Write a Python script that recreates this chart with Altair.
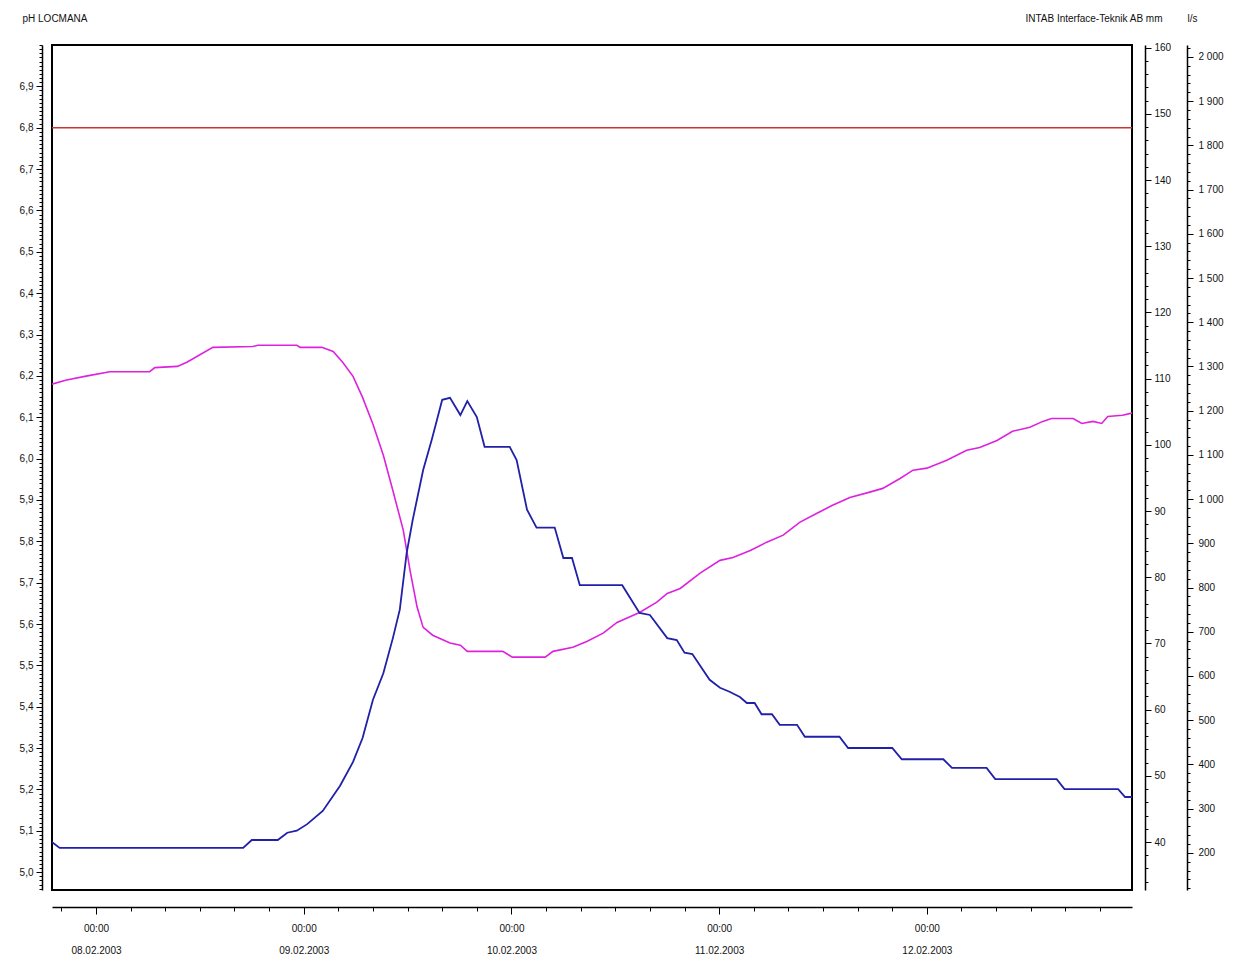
import altair as alt
import pandas as pd
from datetime import datetime, timedelta

# ---------------- data ----------------
BASE = datetime(2003, 2, 8, 0, 0)   # 08.02.2003 00:00

ph_hours = [-5.1, -3.4, -1.0, 1.6, 6.2, 6.8, 9.4, 10.5, 13.5, 18.1, 18.7, 23.2, 23.6, 26.1,
            27.4, 28.5, 29.7, 30.8, 32.0, 33.2, 34.3, 35.5, 36.3, 37.1, 37.8, 38.9, 40.9,
            42.1, 42.9, 47.0, 48.1, 51.9, 52.8, 55.1, 56.7, 58.6, 60.2, 62.8, 64.8, 66.0,
            67.5, 69.8, 72.1, 73.6, 75.6, 77.5, 79.4, 81.3, 83.3, 85.1, 87.1, 89.4, 90.9,
            92.9, 94.4, 96.0, 98.3, 100.6, 102.1, 104.1, 105.9, 107.9, 109.4, 110.4, 112.9,
            113.9, 115.2, 116.2, 116.9, 118.6, 119.7]
ph_values = [6.18, 6.19, 6.20, 6.21, 6.21, 6.22, 6.223, 6.233, 6.269, 6.271, 6.274, 6.274,
             6.269, 6.269, 6.259, 6.233, 6.199, 6.148, 6.083, 6.008, 5.923, 5.827, 5.728,
             5.641, 5.592, 5.573, 5.554, 5.549, 5.534, 5.534, 5.520, 5.520, 5.534, 5.544,
             5.558, 5.578, 5.604, 5.628, 5.653, 5.674, 5.686, 5.723, 5.754, 5.761, 5.778,
             5.798, 5.815, 5.846, 5.868, 5.887, 5.906, 5.919, 5.928, 5.952, 5.972, 5.977,
             5.996, 6.020, 6.027, 6.044, 6.066, 6.076, 6.090, 6.097, 6.097, 6.085, 6.090,
             6.085, 6.102, 6.105, 6.110]

blue_hours = [-5.1, -4.2, 17.0, 18.0, 21.0, 22.1, 23.2, 24.4, 26.2, 28.2, 29.7, 30.8, 32.0,
              33.2, 34.3, 35.1, 35.9, 36.6, 37.8, 38.8, 39.4, 40.0, 40.9, 42.1, 42.9, 44.0,
              44.9, 47.8, 48.6, 49.8, 50.9, 53.0, 54.0, 55.0, 55.9, 60.8, 62.8, 64.0, 66.0,
              67.1, 68.0, 68.9, 70.9, 72.1, 73.2, 74.4, 75.2, 76.1, 76.9, 78.1, 79.0, 81.0,
              81.9, 85.9, 86.9, 92.0, 93.1, 97.9, 98.9, 102.9, 103.9, 111.0, 111.9, 118.1,
              118.9, 119.7]
blue_values = [40.0, 39.1, 39.1, 40.3, 40.3, 41.4, 41.7, 42.7, 44.7, 48.5, 52.1, 55.7, 61.5,
               65.5, 70.8, 75.1, 83.7, 88.7, 96.2, 100.8, 103.8, 106.8, 107.1, 104.5, 106.6,
               104.2, 99.7, 99.7, 97.7, 90.2, 87.5, 87.5, 82.9, 82.9, 78.8, 78.8, 74.6, 74.3,
               70.8, 70.5, 68.6, 68.4, 64.5, 63.3, 62.7, 61.9, 61.0, 61.0, 59.3, 59.3, 57.7,
               57.7, 55.9, 55.9, 54.2, 54.2, 52.5, 52.5, 51.2, 51.2, 49.5, 49.5, 48.0, 48.0,
               46.8, 46.8]

limit_hours = [-5.2, 120.0]
limit_ph = [6.8, 6.8]

ph_domain = [4.957, 7.0]
mm_domain = [32.75, 160.4]
ls_domain = [116, 2027]

ph_ticks = [round(5.0 + 0.1 * i, 1) for i in range(20)]
ph_minor = [round(4.96 + 0.01 * i, 2) for i in range(205)]
mm_ticks = list(range(40, 161, 10))
mm_minor = list(range(34, 161, 2))
ls_ticks = list(range(200, 2001, 100))
ls_minor = list(range(120, 2021, 20))

LEFT_TITLE = "pH   LOCMANA"
RIGHT1_TITLE = "INTAB Interface-Teknik AB   mm"
RIGHT2_TITLE = "l/s"

# ---------------- tables ----------------
def t(h):
    return BASE + timedelta(hours=h)

df_ph = pd.DataFrame({
    "time": [t(h) for h in ph_hours] + [t(h) for h in limit_hours],
    "value": ph_values + limit_ph,
    "series": ["pH"] * len(ph_hours) + ["limit"] * len(limit_hours),
})
df_blue = pd.DataFrame({"time": [t(h) for h in blue_hours], "value": blue_values})
df_ghost = pd.DataFrame({"time": [t(0), t(24)], "value": [500, 1500]})

x_domain = [alt.DateTime(year=2003, month=2, date=7, hours=18, minutes=55),
            alt.DateTime(year=2003, month=2, date=12, hours=23, minutes=42)]
x_major = [alt.DateTime(year=2003, month=2, date=d, hours=0) for d in range(8, 13)]
x_minor = []
for d in range(7, 13):
    for hh in range(0, 24, 4):
        if (d == 7 and hh < 20):
            continue
        x_minor.append(alt.DateTime(year=2003, month=2, date=d, hours=hh))

FONT = "Liberation Sans"


def X(axis):
    return alt.X("time:T", scale=alt.Scale(domain=x_domain), axis=axis)


x_axis_major = alt.Axis(orient="bottom", values=x_major, tickSize=7, tickWidth=1, offset=17, title=None,
                        labelExpr="[timeFormat(datum.value, '%H:%M'), timeFormat(datum.value, '%d.%m.%Y')]",
                        labelLineHeight=22, labelPadding=9, labelFontSize=10, labelFont=FONT,
                        labelColor="#111", domainColor="#000", domainWidth=1.5, grid=False,
                        labelFlush=False, labelOverlap=False, tickColor="#000")
x_axis_minor = alt.Axis(orient="bottom", values=x_minor, tickSize=4, tickWidth=1, offset=17, title=None,
                        labels=False, domain=False, grid=False, tickColor="#000")

ph_axis = alt.Axis(orient="left", values=ph_ticks, offset=10, tickSize=6, grid=False,
                   labelExpr="replace(format(datum.value, '.1f'), '.', ',')",
                   labelFontSize=10, labelFont=FONT, labelPadding=3, labelColor="#111",
                   domainColor="#000", domainWidth=1.5, tickColor="#000",
                   title=LEFT_TITLE, titleAngle=0, titleAlign="left", titleBaseline="middle",
                   titleX=-20, titleY=-27, titleFontSize=10, titleFont=FONT,
                   titleFontWeight="normal", titleColor="#111")
ph_axis_minor = alt.Axis(orient="left", values=ph_minor, offset=10, tickSize=3, labels=False,
                         domain=False, grid=False, title=None, tickColor="#000")

mm_axis = alt.Axis(orient="right", values=mm_ticks, offset=13, tickSize=6, grid=False,
                   labelFontSize=10, labelFont=FONT, labelPadding=3, labelColor="#111",
                   domainColor="#000", domainWidth=1.5, tickColor="#000",
                   title=RIGHT1_TITLE, titleAngle=0, titleAlign="right", titleBaseline="middle",
                   titleX=17, titleY=-27, titleFontSize=10, titleFont=FONT,
                   titleFontWeight="normal", titleColor="#111")
mm_axis_minor = alt.Axis(orient="right", values=mm_minor, offset=13, tickSize=3, labels=False,
                         domain=False, grid=False, title=None, tickColor="#000")

ls_axis = alt.Axis(orient="right", values=ls_ticks, offset=55, tickSize=6, grid=False,
                   labelExpr="replace(format(datum.value, ','), ',', ' ')",
                   labelFontSize=10, labelFont=FONT, labelPadding=5, labelColor="#111",
                   domainColor="#000", domainWidth=1.5, tickColor="#000",
                   title=RIGHT2_TITLE, titleAngle=0, titleAlign="left", titleBaseline="middle",
                   titleX=0, titleY=-27, titleFontSize=10, titleFont=FONT,
                   titleFontWeight="normal", titleColor="#111")
ls_axis_minor = alt.Axis(orient="right", values=ls_minor, offset=55, tickSize=3, labels=False,
                         domain=False, grid=False, title=None, tickColor="#000")

ph_layer = alt.Chart(df_ph).mark_line(clip=True, strokeWidth=1.6).encode(
    x=X(x_axis_major),
    y=alt.Y("value:Q", scale=alt.Scale(domain=ph_domain, nice=False, zero=False), axis=ph_axis),
    color=alt.Color("series:N", scale=alt.Scale(domain=["pH", "limit"], range=["#dd22dd", "#cc3333"]),
                    legend=None),
    detail="series:N",
)
ph_minor_layer = alt.Chart(df_ph).mark_line(opacity=0).encode(
    x=X(x_axis_minor),
    y=alt.Y("value:Q", scale=alt.Scale(domain=ph_domain, nice=False, zero=False), axis=ph_axis_minor),
    detail="series:N",
)
blue_layer = alt.Chart(df_blue).mark_line(clip=True, strokeWidth=1.8, color="#2020a8").encode(
    x=X(None),
    y=alt.Y("value:Q", scale=alt.Scale(domain=mm_domain, nice=False, zero=False), axis=mm_axis),
)
blue_minor_layer = alt.Chart(df_blue).mark_line(opacity=0).encode(
    x=X(None),
    y=alt.Y("value:Q", scale=alt.Scale(domain=mm_domain, nice=False, zero=False), axis=mm_axis_minor),
)
ls_layer = alt.Chart(df_ghost).mark_point(opacity=0).encode(
    x=X(None),
    y=alt.Y("value:Q", scale=alt.Scale(domain=ls_domain, nice=False, zero=False), axis=ls_axis),
)
ls_minor_layer = alt.Chart(df_ghost).mark_point(opacity=0).encode(
    x=X(None),
    y=alt.Y("value:Q", scale=alt.Scale(domain=ls_domain, nice=False, zero=False), axis=ls_axis_minor),
)

chart = alt.layer(
    ph_layer, ph_minor_layer, blue_layer, blue_minor_layer, ls_layer, ls_minor_layer
).resolve_scale(
    x="independent", y="independent"
).properties(
    width=1080, height=845,
    autosize=alt.AutoSizeParams(type="none"),
    padding={"left": 52, "top": 45, "right": 107, "bottom": 73},
    background="white",
).configure_view(
    stroke="#000", strokeWidth=2
)

chart.save("out.html", embed_options={"renderer": "svg", "actions": False})
